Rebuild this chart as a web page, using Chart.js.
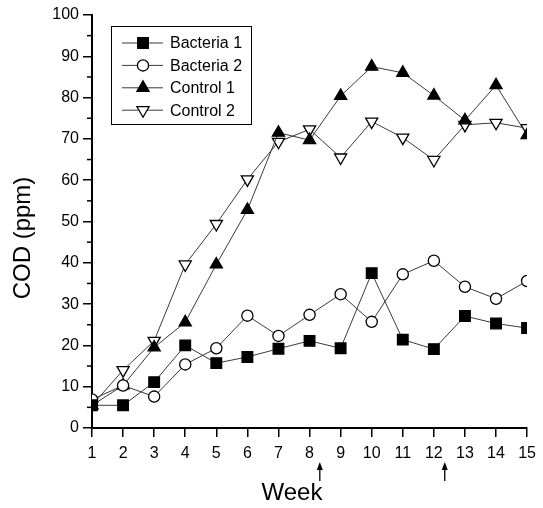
<!DOCTYPE html>
<html>
<head>
<meta charset="utf-8">
<script src="https://cdn.jsdelivr.net/npm/chart.js@4.4.1/dist/chart.umd.min.js"></script>
<style>
  html, body { margin: 0; padding: 0; background: #fff; }
  #wrap { width: 543px; height: 508px; position: relative; }
</style>
</head>
<body>
<div id="wrap"><canvas id="cod-chart"></canvas></div>
<script>
// COD over time for the two bacteria-treated and two control reactors.
const weeks = [1, 2, 3, 4, 5, 6, 7, 8, 9, 10, 11, 12, 13, 14, 15];
const bacteria1 = [5.5, 5.5, 11.1, 20.0, 15.7, 17.2, 19.2, 21.1, 19.3, 37.5, 21.4, 19.1, 27.1, 25.3, 24.2];
const bacteria2 = [6.9, 10.3, 7.6, 15.4, 19.3, 27.2, 22.3, 27.4, 32.4, 25.7, 37.2, 40.5, 34.2, 31.3, 35.6];
const control1 = [5.5, 10.3, 19.5, 25.6, 39.6, 52.8, 71.5, 69.7, 80.4, 87.5, 86.0, 80.5, 74.5, 83.0, 70.9];
const control2 = [5.5, 14.0, 21.1, 39.6, 49.4, 60.2, 69.3, 72.3, 65.5, 74.2, 70.3, 64.9, 73.4, 73.9, 72.6];
const seriesNames = ["Bacteria 1", "Bacteria 2", "Control 1", "Control 2"];
const yMinorTicks = [5, 15, 25, 35, 45, 55, 65, 75, 85, 95];
const arrowWeeks = [8.33, 12.35]; // the two arrows under the week axis
const xTitle = "Week";
const yTitle = "COD (ppm)";

const FONT = 'Arial, "Liberation Sans", sans-serif';
const LINE = "#3a3a3a";

const markerStyles = [
  { pointStyle: "rect", radius: 7.5, rotation: 0, fill: "#000" },
  { pointStyle: "circle", radius: 5.6, rotation: 0, fill: "#fff" },
  { pointStyle: "triangle", radius: 7, rotation: 0, fill: "#000" },
  { pointStyle: "triangle", radius: 7, rotation: 180, fill: "#fff" },
];

function toPoints(values) {
  return weeks.map((w, i) => ({ x: w, y: values[i] }));
}

function makeDataset(label, values, m) {
  return {
    label,
    data: toPoints(values),
    borderColor: LINE,
    borderWidth: 1,
    pointStyle: m.pointStyle,
    pointRadius: m.radius,
    pointRotation: m.rotation,
    pointBackgroundColor: m.fill,
    pointBorderColor: "#000",
    pointBorderWidth: 1.3,
    tension: 0,
  };
}

/** Same marker geometry Chart.js uses, so legend swatches match the plotted points. */
function drawMarker(ctx, m, x, y) {
  ctx.save();
  ctx.fillStyle = m.fill;
  ctx.strokeStyle = "#000";
  ctx.lineWidth = 1.3;
  ctx.beginPath();
  if (m.pointStyle === "rect") {
    const s = Math.SQRT1_2 * m.radius;
    ctx.rect(x - s, y - s, 2 * s, 2 * s);
  } else if (m.pointStyle === "circle") {
    ctx.arc(x, y, m.radius, 0, Math.PI * 2);
  } else {
    let rad = (m.rotation * Math.PI) / 180;
    for (let k = 0; k < 3; k++) {
      const px = x + Math.sin(rad) * m.radius;
      const py = y - Math.cos(rad) * m.radius;
      k === 0 ? ctx.moveTo(px, py) : ctx.lineTo(px, py);
      rad += (2 * Math.PI) / 3;
    }
  }
  ctx.closePath();
  ctx.fill();
  ctx.stroke();
  ctx.restore();
}

const extrasPlugin = {
  id: "extras",
  afterDraw(chart) {
    const { ctx, scales } = chart;
    const xs = scales.x;
    const ys = scales.y;

    // minor ticks on the COD axis
    ctx.save();
    ctx.strokeStyle = "#000";
    ctx.lineWidth = 1.5;
    yMinorTicks.forEach((v) => {
      const py = ys.getPixelForValue(v);
      ctx.beginPath();
      ctx.moveTo(ys.right - 5, py);
      ctx.lineTo(ys.right, py);
      ctx.stroke();
    });

    // arrows below the week axis
    ctx.fillStyle = "#000";
    ctx.lineWidth = 1.3;
    arrowWeeks.forEach((w) => {
      const px = xs.getPixelForValue(w);
      ctx.beginPath();
      ctx.moveTo(px, 468);
      ctx.lineTo(px, 481);
      ctx.stroke();
      ctx.beginPath();
      ctx.moveTo(px, 462);
      ctx.lineTo(px - 3, 470);
      ctx.lineTo(px + 3, 470);
      ctx.closePath();
      ctx.fill();
    });

    // axis titles sit off-centre in the original, so they are placed by hand
    ctx.fillStyle = "#000";
    ctx.font = "24px " + FONT;
    ctx.textAlign = "center";
    ctx.textBaseline = "middle";
    ctx.fillText(xTitle, 292, 493);
    ctx.save();
    ctx.translate(23, 238);
    ctx.rotate(-Math.PI / 2);
    ctx.fillText(yTitle, 0, 0);
    ctx.restore();

    // legend box
    const box = { x: 111, y: 26, w: 140, h: 98 };
    ctx.strokeStyle = "#000";
    ctx.lineWidth = 1;
    ctx.strokeRect(box.x + 0.5, box.y + 0.5, box.w, box.h);
    ctx.font = "16px " + FONT;
    ctx.textAlign = "left";
    ctx.textBaseline = "middle";
    seriesNames.forEach((name, i) => {
      const cy = 43 + i * 22.4;
      ctx.strokeStyle = LINE;
      ctx.lineWidth = 1;
      ctx.beginPath();
      ctx.moveTo(122, cy);
      ctx.lineTo(163, cy);
      ctx.stroke();
      drawMarker(ctx, markerStyles[i], 143, cy);
      ctx.fillStyle = "#000";
      ctx.fillText(name, 170, cy + 1);
    });
    ctx.restore();
  },
};

new Chart(document.getElementById("cod-chart"), {
  type: "line",
  data: {
    datasets: [
      makeDataset(seriesNames[0], bacteria1, markerStyles[0]),
      makeDataset(seriesNames[1], bacteria2, markerStyles[1]),
      makeDataset(seriesNames[2], control1, markerStyles[2]),
      makeDataset(seriesNames[3], control2, markerStyles[3]),
    ],
  },
  options: {
    responsive: true,
    maintainAspectRatio: false,
    animation: false,
    layout: { padding: { left: 0, right: 12, top: 15, bottom: 0 } },
    plugins: { legend: { display: false }, tooltip: { enabled: false } },
    scales: {
      x: {
        type: "linear",
        min: 1,
        max: 15,
        afterFit: (s) => { s.height = 80; },
        ticks: { stepSize: 1, color: "#000", font: { family: FONT, size: 16 }, padding: 7 },
        grid: { drawOnChartArea: false, drawTicks: true, tickLength: 9, color: "#000", lineWidth: 1.5 },
        border: { display: true, color: "#000", width: 2 },
      },
      y: {
        min: 0,
        max: 100,
        afterFit: (s) => { s.width = 92; },
        ticks: { stepSize: 10, color: "#000", font: { family: FONT, size: 16 }, padding: 4 },
        grid: { drawOnChartArea: false, drawTicks: true, tickLength: 9, color: "#000", lineWidth: 1.5 },
        border: { display: true, color: "#000", width: 2 },
      },
    },
  },
  plugins: [extrasPlugin],
});
</script>
</body>
</html>
